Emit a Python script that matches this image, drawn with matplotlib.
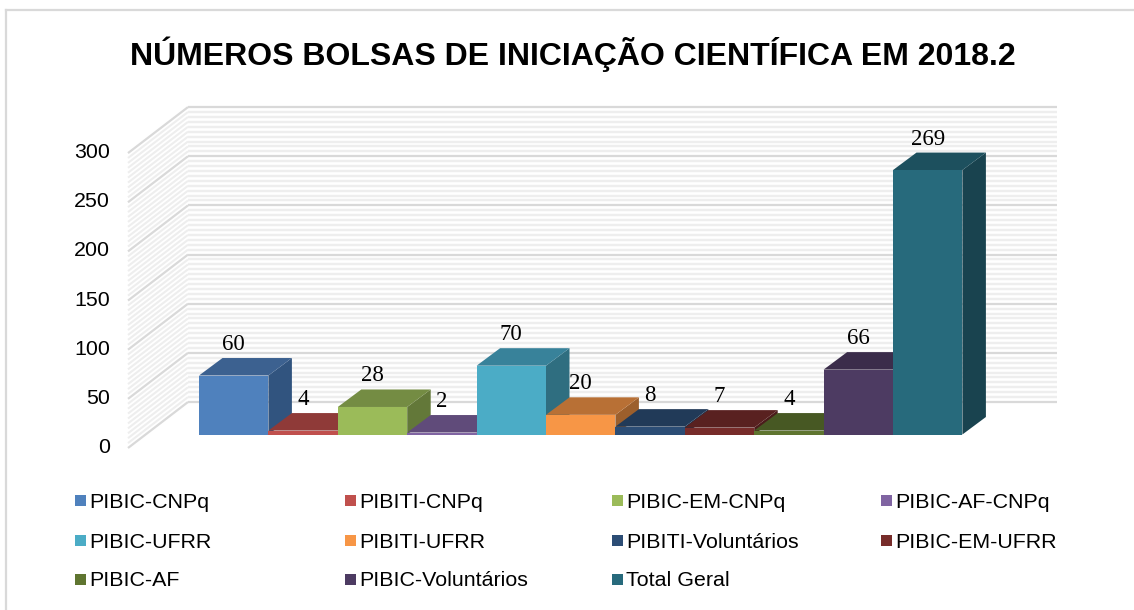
import matplotlib
matplotlib.use("Agg")
import matplotlib.pyplot as plt
from matplotlib.patches import Polygon, Rectangle

categories = ["PIBIC-CNPq", "PIBITI-CNPq", "PIBIC-EM-CNPq", "PIBIC-AF-CNPq",
              "PIBIC-UFRR", "PIBITI-UFRR", "PIBITI-Voluntários", "PIBIC-EM-UFRR",
              "PIBIC-AF", "PIBIC-Voluntários", "Total Geral"]
values = [60, 4, 28, 2, 70, 20, 8, 7, 4, 66, 269]
front_colors = ["#4F81BD", "#C0504D", "#9BBB59", "#8064A2", "#4BACC6", "#F79646",
                "#2C4D75", "#772C2A", "#5F7530", "#4D3B62", "#276A7C"]
top_colors = ["#3C6190", "#8F3A38", "#748C43", "#604B7A", "#38829A", "#B87035",
              "#213A58", "#592120", "#475823", "#3B2D4B", "#1D505E"]
side_colors = ["#31547F", "#7A3230", "#637839", "#523F68", "#2F6E80", "#9C5F2C",
               "#1C314B", "#4B1C1B", "#3C4B1E", "#32263F", "#19434F"]
y_ticks = [0, 50, 100, 150, 200, 250, 300]
minor_ticks = list(range(0, 301, 5))
title = "NÚMEROS BOLSAS DE INICIAÇÃO CIENTÍFICA EM 2018.2"

W, H = 1134, 610
PX_X = 69.4       # pixels per category
PX_Y = 0.983      # pixels per value unit
X0, Y0 = 199, 434.5

fig = plt.figure(figsize=(W / 100, H / 100), dpi=100)
ax = fig.add_axes([0, 0, 1, 1])
ax.set_xlim(-X0 / PX_X, (W - X0) / PX_X)
ax.set_ylim(-(H - Y0) / PX_Y, Y0 / PX_Y)
ax.axis("off")

def dx(px):
    return px / PX_X

def dy(px):
    return px / PX_Y

sans = "Liberation Sans"

# frame: left and top edges only, running off the picture on the right and bottom
frame_l, frame_t = 6, 10
frame_col = "#D9D9D9"
fig.add_artist(plt.Line2D([frame_l / W, frame_l / W], [0, 1 - frame_t / H], color=frame_col, lw=1.6))
fig.add_artist(plt.Line2D([frame_l / W, 1], [1 - frame_t / H] * 2, color=frame_col, lw=1.6))

# walls
wall_front_x = dx(128 - X0)
wall_back_x = dx(188 - X0)
wall_right_x = dx(1057 - X0)
wall_front_y = dy(Y0 - 448)
wall_back_y = dy(Y0 - 402)
for v in minor_ticks:
    if v in y_ticks:
        continue
    ax.plot([wall_front_x, wall_back_x], [v + wall_front_y, v + wall_back_y],
            color="#EEEEEE", lw=1.5, solid_capstyle="butt", zorder=1)
    ax.plot([wall_back_x, wall_right_x], [v + wall_back_y] * 2,
            color="#EEEEEE", lw=1.7, solid_capstyle="butt", zorder=1)
for v in y_ticks:
    ax.plot([wall_front_x, wall_back_x], [v + wall_front_y, v + wall_back_y],
            color="#D9D9D9", lw=1.6, solid_capstyle="butt", zorder=2)
    ax.plot([wall_back_x, wall_right_x], [v + wall_back_y] * 2,
            color="#D9D9D9", lw=1.6, solid_capstyle="butt", zorder=2)
    ax.text(dx(110 - X0), v + wall_front_y + dy(2.5), str(v), ha="right", va="center_baseline",
            family=sans, fontsize=15.4, color="#000000", zorder=6)

# bars
bar_dx, bar_dy = dx(23.5), dy(17.5)
for i, v in enumerate(values):
    z = 3 + i * 0.01
    l, r = i, i + 1
    ax.add_patch(Polygon([(r, 0), (r + bar_dx, bar_dy), (r + bar_dx, v + bar_dy), (r, v)],
                         closed=True, fc=side_colors[i], ec="none", zorder=z))
    ax.add_patch(Polygon([(l, v), (r, v), (r + bar_dx, v + bar_dy), (l + bar_dx, v + bar_dy)],
                         closed=True, fc=top_colors[i], ec="none", zorder=z))
    ax.add_patch(Rectangle((l, 0), 1, v, fc=front_colors[i], ec="none", zorder=z + 0.001))
    ax.text(i + 0.5, v + bar_dy + dy(16), str(v), ha="center", va="center_baseline",
            family="Liberation Serif", fontsize=16.5, color="#000000", zorder=6)

# title
fig.text(573 / W, 1 - 50.5 / H, title, ha="center", va="center_baseline",
         family=sans, fontweight="bold", fontsize=23.0, color="#000000")

# legend
col_x = [75, 345, 612, 881]
row_y = [500, 540, 579]
for i, name in enumerate(categories):
    c, r = i % 4, i // 4
    x, y = col_x[c], row_y[r]
    fig.add_artist(Rectangle((x / W, 1 - (y + 5.5) / H), 11 / W, 11 / H, fc=front_colors[i],
                             ec="none", transform=fig.transFigure))
    fig.text((x + 14.5) / W, 1 - y / H, name, ha="left", va="center_baseline",
             family=sans, fontsize=15.4, color="#000000")

fig.savefig("out.png", dpi=100, facecolor="white")
